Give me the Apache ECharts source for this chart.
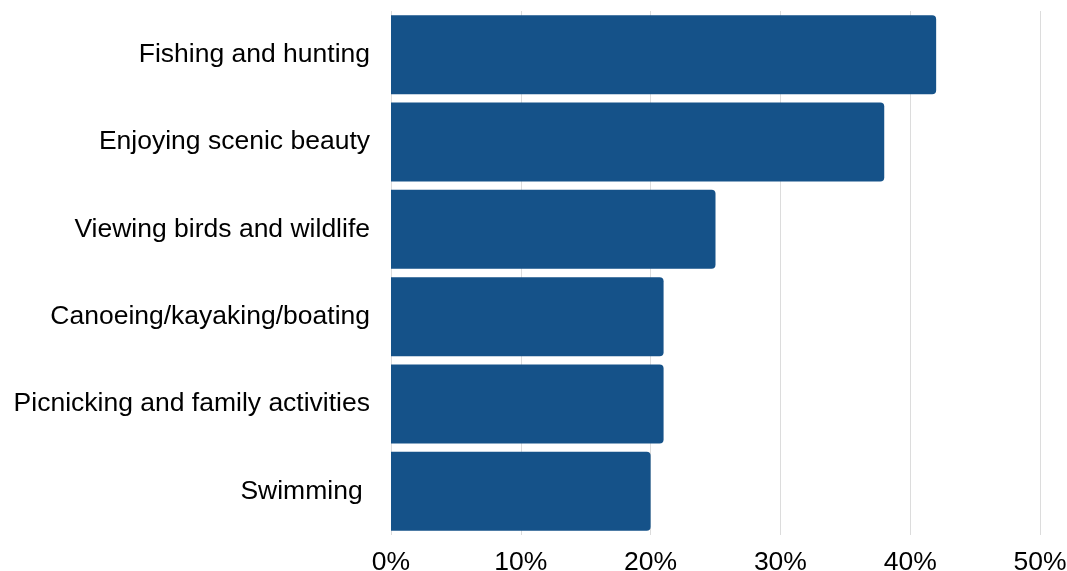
<!DOCTYPE html>
<html>
<head>
<meta charset="utf-8">
<script src="https://cdn.jsdelivr.net/npm/echarts@6/dist/echarts.min.js"></script>
<style>html,body{margin:0;padding:0;background:#fff}#c{width:1067px;height:571px}</style>
</head>
<body>
<div id="c"></div>
<script>
const categories = ["Fishing and hunting", "Enjoying scenic beauty", "Viewing birds and wildlife", "Canoeing/kayaking/boating", "Picnicking and family activities", "Swimming "];
const values = [42, 38, 25, 21, 21, 20];
const xTicks = [0, 10, 20, 30, 40, 50];

const chart = echarts.init(document.getElementById('c'), null, {renderer: 'canvas'});
chart.setOption({
  animation: false,
  backgroundColor: '#ffffff',
  grid: {left: 391, right: 27, top: 11, bottom: 36, containLabel: false, outerBoundsMode: 'none'},
  xAxis: {
    type: 'value',
    min: xTicks[0], max: xTicks[xTicks.length - 1], interval: 10,
    axisLine: {show: false},
    axisTick: {show: false},
    splitLine: {show: true, lineStyle: {color: '#dcdcdc', width: 1}},
    axisLabel: {
      formatter: v => v + '%',
      color: '#000', fontSize: 26.5, fontFamily: 'Liberation Sans', margin: 14
    }
  },
  yAxis: {
    type: 'category',
    data: categories,
    inverse: true,
    axisLine: {show: false},
    axisTick: {show: false},
    axisLabel: {color: '#000', fontSize: 26.5, fontFamily: 'Liberation Sans', margin: 21, padding: [4, 0, 0, 0]}
  },
  series: [{
    type: 'bar',
    data: values,
    barCategoryGap: '9.6%',
    itemStyle: {color: '#155289', borderRadius: [0, 4, 4, 0]}
  }]
});
</script>
</body>
</html>
